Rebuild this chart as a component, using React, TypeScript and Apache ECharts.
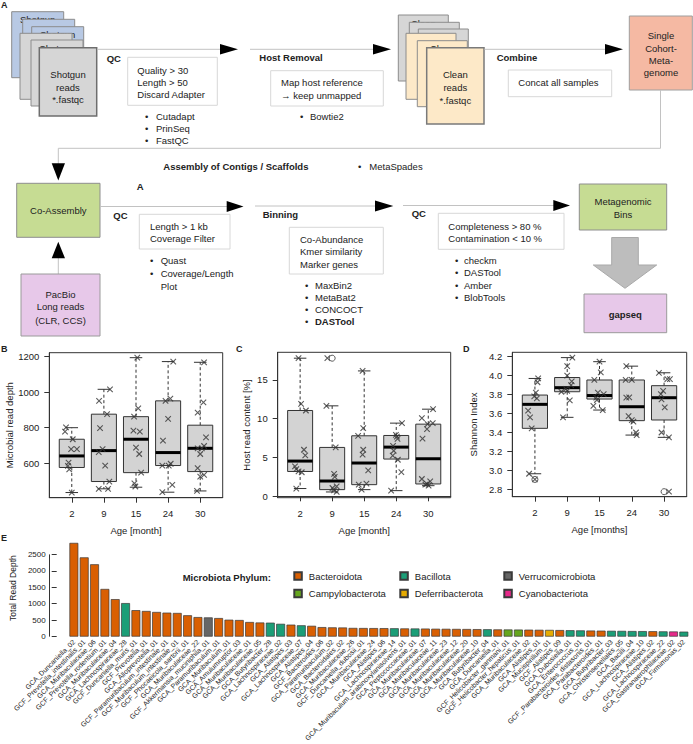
import React, { useEffect, useRef } from 'react';
import * as echarts from 'echarts';

const FONT = "'Liberation Sans', Arial, Helvetica, sans-serif";
const INK = '#222222';

// ---------- Panels B-D ----------
const ageLabels = ['2', '9', '15', '24', '30'];

// Panel B: microbial read depth  [lowWhisker, Q1, median, Q3, highWhisker]
const depthBoxes = [
  [435, 576, 641, 735, 800],
  [456, 497, 671, 876, 1016],
  [465, 547, 735, 862, 1194],
  [437, 587, 660, 951, 1172],
  [444, 553, 684, 814, 1168],
];
const depthPoints = [
  [802, 778, 735, 679, 679, 604, 585, 566, 435],
  [1016, 951, 876, 797, 679, 662, 587, 497, 456, 456],
  [1194, 909, 862, 784, 778, 688, 652, 547, 487, 469],
  [1172, 964, 951, 849, 727, 587, 587, 597, 478, 437],
  [1168, 942, 885, 746, 684, 684, 697, 652, 572, 525, 534, 444],
];
const depthJitter = [
  [-0.18, -0.21, 0.03, -0.02, 0.16, -0.1, -0.12, -0.08, 0.0],
  [0.19, -0.15, 0.1, -0.12, -0.04, -0.16, 0.04, 0.17, -0.16, 0.13],
  [0.04, 0.07, -0.06, -0.08, 0.12, 0.0, 0.1, 0.16, -0.05, -0.02],
  [0.16, 0.07, -0.08, 0.0, -0.16, -0.18, 0.02, 0.08, 0.13, -0.18],
  [0.12, 0.1, -0.08, 0.18, -0.08, 0.05, 0.12, 0.0, -0.08, 0.0, 0.12, -0.1],
];
const depthOutliers: number[][] = [];

// Panel C: host read content [%]
const hostBoxes = [
  [1.0, 3.2, 4.54, 11.06, 17.8],
  [0.56, 0.86, 1.97, 6.3, 11.66],
  [0.86, 1.5, 4.29, 7.8, 16.16],
  [0.73, 4.8, 6.34, 7.84, 9.43],
  [1.37, 1.59, 4.84, 9.3, 11.23],
];
const hostPoints = [
  [17.8, 11.9, 11.06, 6.0, 5.27, 3.86, 3.5, 3.2, 3.1, 1.0],
  [17.8, 11.66, 6.3, 2.9, 2.5, 1.29, 1.07, 0.77, 0.56],
  [16.16, 8.79, 7.8, 6.0, 5.36, 3.34, 1.5, 1.63, 0.86],
  [9.43, 7.93, 7.7, 7.4, 6.5, 5.87, 5.23, 4.71, 3.13, 0.73],
  [11.23, 10.07, 9.43, 9.3, 8.66, 7.42, 2.23, 1.93, 1.59, 1.5, 1.37],
];
const hostJitter = [
  [-0.05, 0.03, 0.18, 0.12, 0.16, -0.16, -0.12, -0.05, 0.05, -0.12],
  [-0.15, -0.18, 0.11, 0.06, 0.08, 0.14, 0.01, 0.06, 0.14],
  [-0.05, -0.03, -0.19, -0.03, -0.05, 0.125, -0.17, 0.07, -0.08],
  [0.18, -0.01, 0.02, 0.04, -0.1, -0.08, -0.11, 0.05, 0.16, -0.16],
  [0.15, -0.2, 0.14, -0.02, -0.04, -0.18, -0.2, 0.06, -0.04, -0.09, 0.01],
];
const hostOutliers = [[2, 17.8]];

// Panel D: Shannon index
const shannonBoxes = [
  [2.965, 3.444, 3.697, 3.795, 3.97],
  [3.56, 3.83, 3.873, 3.98, 4.19],
  [3.637, 3.753, 3.79, 3.954, 4.147],
  [3.373, 3.525, 3.672, 3.954, 4.1],
  [3.349, 3.532, 3.767, 3.894, 4.03],
];
const shannonPoints = [
  [3.97, 3.93, 3.82, 3.78, 3.76, 3.63, 3.56, 3.444, 2.965, 2.905],
  [4.19, 4.1, 4.0, 3.94, 3.9, 3.86, 3.84, 3.83, 3.74, 3.56],
  [4.147, 4.035, 3.954, 3.82, 3.806, 3.767, 3.743, 3.68, 3.637],
  [4.1, 3.954, 3.954, 3.77, 3.767, 3.574, 3.53, 3.514, 3.4, 3.373],
  [4.03, 3.964, 3.964, 3.838, 3.806, 3.75, 3.665, 3.4, 3.349, 2.776],
];
const shannonJitter = [
  [0.1, 0.08, 0.03, -0.02, 0.06, -0.21, -0.15, -0.1, -0.18, 0.0],
  [0.16, 0.0, 0.0, 0.14, 0.12, -0.04, 0.0, -0.18, 0.08, -0.13],
  [0.0, 0.04, -0.16, -0.05, 0.13, -0.1, -0.08, -0.19, 0.1],
  [-0.17, 0.0, -0.19, -0.08, -0.17, -0.1, 0.0, 0.05, 0.13, 0.15],
  [-0.16, 0.1, 0.18, -0.03, -0.1, -0.08, 0.02, -0.08, 0.15, 0.15],
];
const shannonOutliers = [[1, 2.905], [5, 2.776]];

const depthTicks = [600, 800, 1000, 1200];
const hostTicks = [0, 5, 10, 15];
const shannonTicks = [2.8, 3.0, 3.2, 3.4, 3.6, 3.8, 4.0, 4.2];

// ---------- Panel E ----------
const phylumNames = ['Bacteroidota', 'Bacillota', 'Verrucomicrobiota', 'Campylobacterota', 'Deferribacterota', 'Cyanobacteriota'];
const phylumColors = ['#D95F02', '#1B9E77', '#666666', '#66A61E', '#E6AB02', '#E7298A'];

const magNames = [
  'GCA_Duncaniella_02', 'GCF_Prevotella_intestinalis_01', 'GCA_Muribaculaceae_06', 'GCF_Prevotella_rodentium_01', 'GCA_Muribaculaceae_04',
  'GCA_Lachnospiraceae_28', 'GCF_Duncaniella_muris_01', 'GCF_Prevotella_01', 'GCA_Alloprevotella_01', 'GCF_Paramuribaculum_intestinale_01',
  'GCF_Muribaculum_intestinale_01', 'GCF_Phocaeicola_sartorii_01', 'GCA_Muribaculaceae_22', 'GCF_Akkermansia_muciniphila_01', 'GCA_Paramuribaculum_01',
  'GCA_Muribaculum_01', 'GCA_Amulumruptor_03', 'GCA_Muribaculaceae_01', 'GCA_Muribaculaceae_05', 'GCA_Butyribacter_28',
  'GCA_Lachnospiraceae_02', 'GCA_Alistipes_03', 'GCA_Lachnospiraceae_07', 'GCA_Alistipes_04', 'GCF_Bacteroides_06',
  'GCA_Paramuribaculum_02', 'GCA_Bacteroidales_02', 'GCA_Muribaculaceae_26', 'GCF_Duncaniella_dubosii_01', 'GCA_Muribaculaceae_24',
  'GCA_Alistipes_06', 'GCA_Lachnospiraceae_14', 'GCA_Muribaculum_arabinoxylanisolvens_01', 'GCA_Peptococcaceae_01', 'GCA_Muribaculaceae_07',
  'GCA_Muribaculaceae_11', 'GCA_Muribaculaceae_23', 'GCA_Muribaculaceae_12', 'GCA_Muribaculaceae_20', 'GCA_Muribaculaceae_10',
  'GCA_Butyribacter_04', 'GCA_Duncaniella_01', 'GCF_Helicobacter_ganmani_01', 'GCF_Helicobacter_hepaticus_01', 'GCA_Muribaculaceae_02',
  'GCA_Alistipes_01', 'GCA_Mucispirillum_01', 'GCF_Alistipes_09', 'GCA_Dubosiella_01', 'GCA_Enterococcus_01',
  'GCF_Parabacteroides_distasonis_01', 'GCA_Parabacteroides_01', 'GCA_Butyribacter_03', 'GCA_Christensenellales_05', 'GCA_Bacilli_04',
  'GCA_Lachnospiraceae_10', 'GCA_Alistipes_02', 'GCA_Lachnospiraceae_22', 'GCA_Gastranaerophilaceae_02', 'GCA_Firmimonas_02',
];
const magDepth = [
  2850, 2410, 2200, 1450, 1140, 1020, 805, 780, 750, 730,
  720, 650, 595, 585, 565, 515, 505, 445, 430, 425,
  390, 365, 345, 330, 290, 282, 278, 265, 262, 260,
  258, 255, 250, 248, 245, 240, 238, 235, 232, 228,
  225, 220, 218, 215, 212, 208, 205, 200, 195, 190,
  185, 182, 178, 175, 170, 168, 165, 160, 157, 152,
];
// index into phylumNames
const magPhylum = [
  0, 0, 0, 0, 0, 1, 0, 0, 0, 0,
  0, 0, 0, 2, 0, 0, 0, 0, 0, 1,
  1, 0, 1, 0, 0, 0, 0, 0, 0, 0,
  0, 1, 0, 1, 0, 0, 0, 0, 0, 0,
  1, 0, 3, 3, 0, 0, 4, 0, 1, 1,
  0, 0, 1, 1, 1, 1, 0, 1, 5, 1,
];
const depthAxisTicks = [0, 500, 1000, 1500, 2000, 2500];

// ---------- layout ----------
const E_GRID = { left: 61.5, top: 539.6, width: 627.5, height: 112.1 };
const E_AXIS_OFFSET = 12;

const BOX_W = 0.78;
const XSYM = 'path://M0 0L10 10M10 0L0 10';
const plain = (v: number) => String(v);

function renderBox(params: any, api: any) {
  const x = api.value(0);
  const pLo = api.coord([x, api.value(1)]);
  const yQ1 = api.coord([x, api.value(2)])[1];
  const yMed = api.coord([x, api.value(3)])[1];
  const yQ3 = api.coord([x, api.value(4)])[1];
  const yHi = api.coord([x, api.value(5)])[1];
  const cx = pLo[0];
  const yLo = pLo[1];
  const half = api.size([BOX_W, 0])[0] / 2;
  const cap = half / 2;
  const dash = { stroke: '#333', lineWidth: 1, lineDash: [3, 2.5] };
  const solid = { stroke: '#333', lineWidth: 1 };
  return {
    type: 'group',
    children: [
      { type: 'line', shape: { x1: cx, y1: yQ3, x2: cx, y2: yHi }, style: dash },
      { type: 'line', shape: { x1: cx, y1: yQ1, x2: cx, y2: yLo }, style: dash },
      { type: 'line', shape: { x1: cx - cap, y1: yHi, x2: cx + cap, y2: yHi }, style: solid },
      { type: 'line', shape: { x1: cx - cap, y1: yLo, x2: cx + cap, y2: yLo }, style: solid },
      { type: 'rect', shape: { x: cx - half, y: yQ3, width: 2 * half, height: yQ1 - yQ3 }, style: { fill: '#d3d3d3', stroke: '#333', lineWidth: 1 } },
      { type: 'line', shape: { x1: cx - half, y1: yMed, x2: cx + half, y2: yMed }, style: { stroke: '#000', lineWidth: 3 } },
    ],
  };
}

function panelSeries(idx: number, boxes: number[][], points: number[][], jitter: number[][], outliers: number[][]) {
  const boxData = boxes.map((b, i) => [i + 1, ...b]);
  const pts: number[][] = [];
  points.forEach((g, i) => g.forEach((v, j) => pts.push([i + 1 + jitter[i][j], v])));
  return [
    { type: 'custom', xAxisIndex: idx, yAxisIndex: idx, renderItem: renderBox, data: boxData, encode: { x: 0, y: [1, 2, 3, 4, 5] }, z: 2, silent: true },
    { type: 'scatter', xAxisIndex: idx, yAxisIndex: idx, data: outliers, symbol: 'circle', symbolSize: 6, itemStyle: { color: 'rgba(0,0,0,0)', borderColor: '#333', borderWidth: 1 }, z: 3, silent: true },
    { type: 'scatter', xAxisIndex: idx, yAxisIndex: idx, data: pts, symbol: XSYM, symbolSize: 5.5, itemStyle: { color: 'rgba(0,0,0,0)', borderColor: '#333', borderWidth: 1.1 }, z: 4, silent: true },
  ];
}

const tickText = { fontSize: 9.5, fontFamily: FONT, color: INK };

function panelX(grid: number, name: string) {
  return {
    gridIndex: grid, type: 'value', min: 0.3, max: 5.7, name, nameLocation: 'middle', nameGap: 28,
    nameTextStyle: { fontSize: 9.5, fontFamily: FONT, color: INK },
    axisLine: { show: true, lineStyle: { color: '#333' } }, splitLine: { show: false },
    axisTick: { show: true, customValues: [1, 2, 3, 4, 5], length: 5, lineStyle: { color: '#333' } },
    axisLabel: { ...tickText, customValues: [1, 2, 3, 4, 5], margin: 11, formatter: (v: number) => ageLabels[Math.round(v) - 1] ?? '' },
  };
}
function panelY(grid: number, name: string, min: number, max: number, ticks: number[], gap: number, fmt: (v: number) => string) {
  return {
    gridIndex: grid, type: 'value', min, max, name, nameLocation: 'middle', nameGap: gap,
    nameTextStyle: { fontSize: 9.5, fontFamily: FONT, color: INK },
    axisLine: { show: true, lineStyle: { color: '#333' } }, splitLine: { show: false },
    axisTick: { show: true, customValues: ticks, length: 5, lineStyle: { color: '#333' } },
    axisLabel: { ...tickText, customValues: ticks, margin: 10, formatter: fmt },
  };
}

// ---------- flowchart (panel A) ----------
function buildFlow(): any[] {
  const els: any[] = [];
  const txt = (x: number, y: number, text: string, o: any = {}) => {
    const align = o.align ?? 'left';
    els.push({
      type: 'text', silent: true,
      style: {
        text, x, y, fill: INK, fontSize: o.size ?? 9.5, fontFamily: FONT, fontWeight: o.bold ? 'bold' : 'normal',
        align, textAlign: align, verticalAlign: 'middle', textVerticalAlign: 'middle',
      },
    });
  };
  const rect = (x: number, y: number, w: number, h: number, fill: string, stroke: string, lw = 1) =>
    els.push({ type: 'rect', silent: true, shape: { x, y, width: w, height: h }, style: { fill, stroke, lineWidth: lw } });
  const line = (pts: number[][]) =>
    els.push({ type: 'polyline', silent: true, shape: { points: pts }, style: { stroke: '#c2c2c2', lineWidth: 1, fill: null } });
  const tri = (pts: number[][], fill = '#000') =>
    els.push({ type: 'polygon', silent: true, shape: { points: pts }, style: { fill } });
  const bullets = (bx: number, tx: number, ys: number[], items: string[], boldIdx = -1) => {
    items.forEach((it, i) => {
      txt(bx, ys[i], '•');
      txt(tx, ys[i], it, { bold: i === boldIdx });
    });
  };
  const BOX_EDGE = '#d8d8d8';

  // panel letters
  txt(1, 5, 'A', { bold: true, size: 9 });
  txt(1, 349, 'B', { bold: true, size: 9 });
  txt(236, 349, 'C', { bold: true, size: 9 });
  txt(463, 349, 'D', { bold: true, size: 9 });
  txt(1, 538, 'E', { bold: true, size: 9 });

  // Shotgun reads stack (cards behind show only a glimpse of their label)
  const sBack = [[11.7, 11.7, '#b8c9e4', 1], [22.7, 19.3, '#b8c9e4', 0], [31.7, 26.7, '#b8c9e4', 1], [20, 33.3, '#d6d6d6', 0], [31, 40, '#d6d6d6', 1]];
  sBack.forEach(([x, y, c, label]: any) => {
    rect(x, y, 52, 66, c, '#8c8c8c');
    if (label) txt(x + 26, y + 8, 'Shotgun', { align: 'center' });
  });
  rect(39.3, 47.7, 57.4, 68.3, '#d6d6d6', '#6e6e6e', 1.5);
  txt(68, 74, 'Shotgun', { align: 'center' });
  txt(68, 87, 'reads', { align: 'center' });
  txt(68, 99.5, '*.fastqc', { align: 'center' });

  // QC 1
  line([[97.5, 49.3], [222, 49.3]]);
  tri([[220, 44], [238, 49.3], [220, 54.6]]);
  txt(106.7, 58, 'QC', { bold: true });
  rect(127.7, 57.3, 89.6, 48, '#ffffff', BOX_EDGE);
  txt(137.3, 70.7, 'Quality > 30');
  txt(137.3, 82.7, 'Length > 50');
  txt(137.3, 94.7, 'Discard Adapter');
  bullets(145, 156, [116, 128, 140], ['Cutadapt', 'PrinSeq', 'FastQC']);

  // Host removal
  line([[250, 49.3], [375, 49.3]]);
  tri([[373, 44], [391, 49.3], [373, 54.6]]);
  txt(259.3, 57.5, 'Host Removal', { bold: true });
  rect(270.7, 70.7, 112.6, 35.3, '#ffffff', BOX_EDGE);
  txt(281, 82.7, 'Map host reference');
  txt(281, 95, '→ keep unmapped');
  bullets(300, 310, [116], ['Bowtie2']);

  // Clean reads stack
  const cBack = [[398.3, 15, '#d6d6d6', 1], [409.3, 22.3, '#d6d6d6', 0], [418.3, 29, '#d6d6d6', 1], [406, 33.3, '#fde9c8', 0], [417.3, 40.7, '#fde9c8', 1]];
  cBack.forEach(([x, y, c, label]: any) => {
    rect(x, y, 50, 66, c, '#8c8c8c');
    if (label) txt(x + 25, y + 8, 'Clean', { align: 'center' });
  });
  rect(426.7, 47.7, 57.3, 76.3, '#fde9c8', '#7a7a7a', 1.5);
  txt(455.3, 74, 'Clean', { align: 'center' });
  txt(455.3, 87.3, 'reads', { align: 'center' });
  txt(455.3, 100, '*.fastqc', { align: 'center' });

  // Combine
  line([[484.5, 49.3], [607, 49.3]]);
  tri([[605, 44], [623, 49.3], [605, 54.6]]);
  txt(496.7, 57, 'Combine', { bold: true });
  rect(508.3, 70, 103.4, 26.7, '#ffffff', BOX_EDGE);
  txt(518.3, 82.7, 'Concat all samples');

  rect(629.3, 16, 63, 74, '#f5b9a3', '#9e9e9e');
  txt(661, 35, 'Single', { align: 'center' });
  txt(661, 48.3, 'Cohort-', { align: 'center' });
  txt(661, 60.3, 'Meta-', { align: 'center' });
  txt(661, 72.7, 'genome', { align: 'center' });

  // connector to co-assembly
  line([[660.5, 90], [660.5, 148.3], [58.3, 148.3], [58.3, 165]]);
  tri([[51.7, 163.3], [65, 163.3], [58.3, 180.5]]);
  txt(163.3, 166, 'Assembly of Contigs / Scaffolds', { bold: true });
  bullets(358, 369.3, [166], ['MetaSpades']);
  txt(136.7, 186, 'A', { bold: true });

  rect(16.7, 183.3, 83.3, 54, '#c6dc93', '#8e8e8e');
  txt(58.3, 210.5, 'Co-Assembly', { align: 'center' });

  line([[58.3, 274], [58.3, 256]]);
  tri([[51.7, 258.3], [65, 258.3], [58.3, 241.7]]);
  rect(21, 274, 79, 62, '#e7c8e9', '#9a9a9a');
  txt(60.5, 294, 'PacBio', { align: 'center' });
  txt(60.5, 306.7, 'Long reads', { align: 'center' });
  txt(60.5, 320, '(CLR, CCS)', { align: 'center' });

  // QC 2
  line([[100, 206.5], [229, 206.5]]);
  tri([[226.7, 201], [243.5, 206.5], [226.7, 212]]);
  txt(113.3, 215, 'QC', { bold: true });
  rect(139.3, 214.3, 90.7, 34.7, '#ffffff', BOX_EDGE);
  txt(150, 226.7, 'Length > 1 kb');
  txt(150, 238.3, 'Coverage Filter');
  bullets(150, 160.7, [260.7, 273.3], ['Quast', 'Coverage/Length']);
  txt(160.7, 286, 'Plot');

  // Binning
  line([[255, 206], [377, 206]]);
  tri([[375, 200.5], [393.3, 206], [375, 211.5]]);
  txt(262.7, 214, 'Binning', { bold: true });
  rect(289.3, 227.3, 94, 46.7, '#ffffff', BOX_EDGE);
  txt(300, 239.3, 'Co-Abundance');
  txt(300, 251.7, 'Kmer similarity');
  txt(300, 264, 'Marker genes');
  bullets(305, 315, [285, 297.3, 309.5, 321.7], ['MaxBin2', 'MetaBat2', 'CONCOCT', 'DASTool'], 3);

  // QC 3
  line([[403, 205.5], [555, 205.5]]);
  tri([[553.3, 200], [570, 205.5], [553.3, 211]]);
  txt(411.7, 213.3, 'QC', { bold: true });
  rect(438.3, 213.3, 125.7, 36, '#ffffff', BOX_EDGE);
  txt(448.3, 226, 'Completeness > 80 %');
  txt(448.3, 238.3, 'Contamination < 10 %');
  bullets(455, 464, [260, 272.7, 285, 297.3], ['checkm', 'DASTool', 'Amber', 'BlobTools']);

  rect(579.3, 184, 87.4, 46, '#c6dc93', '#8e8e8e');
  txt(623, 201.7, 'Metagenomic', { align: 'center' });
  txt(623, 214, 'Bins', { align: 'center' });

  els.push({
    type: 'polygon', silent: true,
    shape: { points: [[611.7, 237.5], [638.3, 237.5], [638.3, 265], [656.7, 265], [625, 288.3], [593.3, 265], [611.7, 265]] },
    style: { fill: '#bdbdbd', stroke: '#a9a9a9', lineWidth: 1 },
  });

  rect(584, 294, 82.7, 38.7, '#e7c8e9', '#9a9a9a');
  txt(625.3, 314, 'gapseq', { align: 'center', bold: true });

  // Legend title for E
  txt(182.7, 577, 'Microbiota Phylum:', { bold: true });
  return els;
}

function buildOption() {
  const legendPos = [
    [293.3, 571], [399.3, 571], [503.3, 571],
    [293.3, 588.5], [399.3, 588.5], [503.3, 588.5],
  ];
  const legendOrder = [0, 1, 2, 3, 4, 5];
  const barSeries = phylumNames.map((name, p) => ({
    type: 'bar', name, xAxisIndex: 3, yAxisIndex: 3, stack: 'mags', barCategoryGap: '14%',
    data: magDepth.map((v, i) => (magPhylum[i] === p ? v : '-')),
    itemStyle: { color: phylumColors[p], borderColor: '#3a3a3a', borderWidth: 0.7 },
    silent: true,
  }));

  return {
    animation: false,
    backgroundColor: '#ffffff',
    textStyle: { fontFamily: FONT },
    grid: [
      { left: 49.3, top: 352.7, width: 173.4, height: 145, show: true, borderColor: '#333', borderWidth: 1, backgroundColor: 'transparent' },
      { left: 277.7, top: 352.3, width: 173, height: 145.4, show: true, borderColor: '#333', borderWidth: 1, backgroundColor: 'transparent' },
      { left: 512.3, top: 352.3, width: 174.4, height: 144.4, show: true, borderColor: '#333', borderWidth: 1, backgroundColor: 'transparent' },
      { ...E_GRID, show: false },
    ],
    xAxis: [
      panelX(0, 'Age [month]'),
      panelX(1, 'Age [month]'),
      panelX(2, 'Age [months]'),
      {
        gridIndex: 3, type: 'category', data: magNames,
        axisLine: { show: false }, axisTick: { show: false }, splitLine: { show: false },
        axisLabel: { interval: 0, rotate: 45, fontSize: 7, fontFamily: FONT, color: INK, margin: 4 },
      },
    ],
    yAxis: [
      panelY(0, 'Microbial read depth', 406, 1222, depthTicks, 35, plain),
      panelY(1, 'Host read content [%]', -0.18, 18.56, hostTicks, 26, plain),
      panelY(2, 'Shannon Index', 2.723, 4.246, shannonTicks, 34, (v: number) => v.toFixed(1)),
      {
        gridIndex: 3, type: 'value', min: 0, max: 2950, offset: E_AXIS_OFFSET,
        name: 'Total Read Depth', nameLocation: 'middle', nameGap: 38,
        nameTextStyle: { fontSize: 8.5, fontFamily: FONT, color: INK },
        axisLine: { show: false }, splitLine: { show: false },
        axisTick: { show: true, customValues: depthAxisTicks, length: 5, lineStyle: { color: '#333' } },
        axisLabel: { customValues: depthAxisTicks, fontSize: 8, fontFamily: FONT, color: INK, margin: 11, formatter: plain },
      },
    ],
    legend: legendOrder.map((p, k) => ({
      data: [phylumNames[p]], left: legendPos[k][0], top: legendPos[k][1], padding: 0,
      icon: 'rect', itemWidth: 7.5, itemHeight: 7.5, selectedMode: false,
      textStyle: { fontSize: 9.5, fontFamily: FONT, color: INK, padding: [0, 0, 0, 2] },
    })),
    series: [
      ...panelSeries(0, depthBoxes, depthPoints, depthJitter, depthOutliers),
      ...panelSeries(1, hostBoxes, hostPoints, hostJitter, hostOutliers),
      ...panelSeries(2, shannonBoxes, shannonPoints, shannonJitter, shannonOutliers),
      ...barSeries,
    ],
    graphic: { elements: buildFlow() },
  };
}

export default function App() {
  const ref = useRef<HTMLDivElement>(null);
  useEffect(() => {
    if (!ref.current) return;
    const chart = echarts.init(ref.current, null, { renderer: 'svg' });
    chart.setOption(buildOption() as any);
    const y0 = chart.convertToPixel({ yAxisIndex: 3 } as any, 0) as any;
    const y1 = chart.convertToPixel({ yAxisIndex: 3 } as any, depthAxisTicks[depthAxisTicks.length - 1]) as any;
    const ax = E_GRID.left - E_AXIS_OFFSET;
    chart.setOption({
      graphic: {
        elements: [
          ...buildFlow(),
          { type: 'line', silent: true, shape: { x1: ax, y1: y0, x2: ax, y2: y1 }, style: { stroke: '#333', lineWidth: 1 } },
        ],
      },
    } as any);
    return () => chart.dispose();
  }, []);
  return <div ref={ref} style={{ position: 'absolute', left: 0, top: 0, width: 693, height: 744, background: '#fff' }} />;
}
